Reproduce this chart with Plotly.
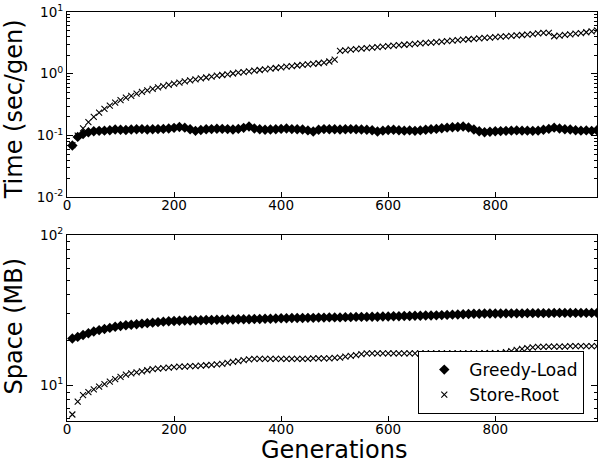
import plotly.graph_objects as go

generations = list(range(10, 1000, 10))

greedy_time = [
    0.069, 0.095, 0.106, 0.113, 0.117, 0.119, 0.120, 0.122, 0.125, 0.124,
    0.123, 0.125, 0.126, 0.127, 0.125, 0.126, 0.127, 0.128, 0.130, 0.133,
    0.137, 0.134, 0.126, 0.119, 0.123, 0.126, 0.127, 0.129, 0.128, 0.127,
    0.125, 0.128, 0.133, 0.140, 0.130, 0.126, 0.124, 0.125, 0.126, 0.128,
    0.130, 0.127, 0.126, 0.125, 0.121, 0.116, 0.124, 0.127, 0.126, 0.126,
    0.125, 0.126, 0.127, 0.126, 0.125, 0.124, 0.122, 0.116, 0.120, 0.123,
    0.124, 0.122, 0.120, 0.121, 0.119, 0.121, 0.124, 0.126, 0.128, 0.131,
    0.134, 0.136, 0.137, 0.140, 0.135, 0.125, 0.117, 0.113, 0.115, 0.117,
    0.118, 0.119, 0.120, 0.121, 0.120, 0.120, 0.119, 0.120, 0.124, 0.128,
    0.134, 0.130, 0.126, 0.125, 0.122, 0.120, 0.121, 0.119, 0.122,
]

store_time = [
    0.070, 0.100, 0.130, 0.165, 0.200, 0.235, 0.270, 0.305, 0.340, 0.375,
    0.410, 0.440, 0.475, 0.510, 0.540, 0.570, 0.600, 0.630, 0.660, 0.690,
    0.720, 0.750, 0.780, 0.810, 0.840, 0.870, 0.900, 0.930, 0.955, 0.980,
    1.010, 1.040, 1.060, 1.090, 1.120, 1.150, 1.180, 1.210, 1.240, 1.270,
    1.300, 1.330, 1.360, 1.390, 1.420, 1.450, 1.480, 1.520, 1.580, 1.700,
    2.350, 2.400, 2.450, 2.500, 2.550, 2.600, 2.650, 2.700, 2.750, 2.800,
    2.850, 2.900, 2.950, 3.000, 3.050, 3.100, 3.150, 3.200, 3.260, 3.320,
    3.380, 3.440, 3.500, 3.560, 3.620, 3.680, 3.740, 3.800, 3.860, 3.920,
    3.980, 4.040, 4.100, 4.170, 4.240, 4.310, 4.380, 4.500, 4.600, 4.600,
    4.050, 4.150, 4.250, 4.350, 4.450, 4.550, 4.700, 4.850, 5.050,
]

greedy_space = [
    20.5, 21.0, 21.6, 22.2, 22.8, 23.3, 23.7, 24.1, 24.5, 24.8,
    25.1, 25.3, 25.5, 25.7, 25.9, 26.1, 26.3, 26.5, 26.7, 26.8,
    26.9, 27.0, 27.0, 27.1, 27.1, 27.2, 27.2, 27.3, 27.3, 27.4,
    27.4, 27.5, 27.5, 27.5, 27.6, 27.6, 27.7, 27.7, 27.8, 27.9,
    27.9, 28.0, 28.0, 28.0, 28.1, 28.1, 28.2, 28.2, 28.3, 28.3,
    28.3, 28.4, 28.4, 28.5, 28.5, 28.5, 28.6, 28.6, 28.7, 28.7,
    28.8, 28.8, 28.9, 28.9, 29.0, 29.0, 29.1, 29.1, 29.2, 29.3,
    29.4, 29.5, 29.6, 29.7, 29.8, 29.9, 29.9, 30.0, 30.0, 30.0,
    30.0, 30.1, 30.1, 30.1, 30.1, 30.2, 30.2, 30.2, 30.2, 30.2,
    30.3, 30.3, 30.3, 30.3, 30.3, 30.3, 30.3, 30.3, 30.3,
]

store_space = [
    6.4, 7.8, 8.6, 9.0, 9.4, 9.8, 10.2, 10.6, 11.0, 11.4,
    11.8, 12.0, 12.2, 12.4, 12.6, 12.8, 12.9, 13.0, 13.1, 13.2,
    13.3, 13.3, 13.4, 13.4, 13.5, 13.6, 13.7, 13.8, 13.9, 14.1,
    14.3, 14.5, 14.7, 14.9, 15.0, 15.0, 15.0, 15.0, 15.0, 15.0,
    15.0, 15.0, 15.0, 15.0, 15.0, 15.1, 15.1, 15.1, 15.1, 15.2,
    15.3, 15.5, 15.7, 15.9, 16.1, 16.3, 16.3, 16.3, 16.3, 16.3,
    16.3, 16.3, 16.3, 16.3, 16.3, 16.3, 16.3, 16.3, 16.3, 16.3,
    16.3, 16.3, 16.3, 16.3, 16.3, 16.3, 16.3, 16.4, 16.4, 16.4,
    16.4, 16.6, 16.9, 17.2, 17.5, 17.7, 17.9, 18.0, 18.0, 18.1,
    18.1, 18.1, 18.1, 18.2, 18.2, 18.2, 18.2, 18.2, 18.2,
]

x_ticks = [0, 200, 400, 600, 800]
time_tickvals = [0.01, 0.1, 1, 10]
time_ticktext = ["10<sup>-2</sup>", "10<sup>-1</sup>", "10<sup>0</sup>", "10<sup>1</sup>"]
space_tickvals = [10, 100]
space_ticktext = ["10<sup>1</sup>", "10<sup>2</sup>"]

FONT = "DejaVu Sans"

time_minor = [m * 10.0 ** e for e in (-2, -1, 0) for m in range(2, 10)]
space_minor = [m * 10.0 ** e for e in (0, 1) for m in range(2, 10)]

greedy_marker = dict(symbol="diamond", size=8, color="black", line=dict(width=0))
store_marker = dict(symbol="x-thin", size=6, color="black", line=dict(width=1.1, color="black"))

fig = go.Figure()
fig.add_trace(go.Scatter(x=generations, y=greedy_time, mode="markers", marker=greedy_marker,
                         name="Greedy-Load", showlegend=True, xaxis="x", yaxis="y"))
fig.add_trace(go.Scatter(x=generations, y=store_time, mode="markers", marker=store_marker,
                         name="Store-Root", showlegend=True, xaxis="x", yaxis="y"))
fig.add_trace(go.Scatter(x=generations, y=greedy_space, mode="markers", marker=greedy_marker,
                         name="Greedy-Load", showlegend=False, xaxis="x2", yaxis="y2"))
fig.add_trace(go.Scatter(x=generations, y=store_space, mode="markers", marker=store_marker,
                         name="Store-Root", showlegend=False, xaxis="x2", yaxis="y2"))

xcommon = dict(range=[0, 990], tickvals=x_ticks, ticks="inside", ticklen=5, tickwidth=1,
               tickcolor="black", showline=True, linecolor="black", linewidth=1,
               mirror="allticks", showgrid=False, zeroline=False, ticklabelstandoff=-4,
               tickfont=dict(family=FONT, size=13.5, color="black"))


def ycommon(minor_vals):
    return dict(type="log", ticks="inside", ticklen=6, tickwidth=1, tickcolor="black",
                showline=True, linecolor="black", linewidth=1, mirror="allticks",
                showgrid=False, zeroline=False,
                tickfont=dict(family=FONT, size=13.5, color="black"),
                minor=dict(ticks="inside", ticklen=3, tickwidth=1, tickcolor="black",
                           showgrid=False, tickvals=minor_vals))


fig.update_layout(
    width=600, height=462,
    margin=dict(l=67, r=2, t=8, b=41),
    paper_bgcolor="white", plot_bgcolor="white",
    font=dict(family=FONT, color="black"),
    xaxis=dict(domain=[0, 1], anchor="y", **xcommon),
    yaxis=dict(domain=[0.547, 1], anchor="x", range=[-2, 1],
               tickvals=time_tickvals, ticktext=time_ticktext, **ycommon(time_minor)),
    xaxis2=dict(domain=[0, 1], anchor="y2", **xcommon),
    yaxis2=dict(domain=[0, 0.455], anchor="x2", range=[0.763, 2],
                tickvals=space_tickvals, ticktext=space_ticktext, **ycommon(space_minor)),
    legend=dict(x=0.976, y=0.017, xanchor="right", yanchor="bottom",
                bordercolor="black", borderwidth=1, bgcolor="white",
                font=dict(family=FONT, size=17, color="black"),
                itemwidth=40, tracegroupgap=0),
    showlegend=True,
    annotations=[
        dict(text="Time (sec/gen)", xref="paper", yref="paper", x=-0.1, y=0.762,
             xanchor="center", yanchor="middle", textangle=-90, showarrow=False,
             font=dict(family=FONT, size=24, color="black")),
        dict(text="Space (MB)", xref="paper", yref="paper", x=-0.1, y=0.231,
             xanchor="center", yanchor="middle", textangle=-90, showarrow=False,
             font=dict(family=FONT, size=24, color="black")),
        dict(text="Generations", xref="paper", yref="paper", x=0.503, y=-0.108,
             xanchor="center", yanchor="bottom", showarrow=False, borderpad=0,
             font=dict(family=FONT, size=24, color="black")),
    ],
)

fig.write_html("out.html", config={"displayModeBar": False},
               post_script="document.body.style.margin='0';")
